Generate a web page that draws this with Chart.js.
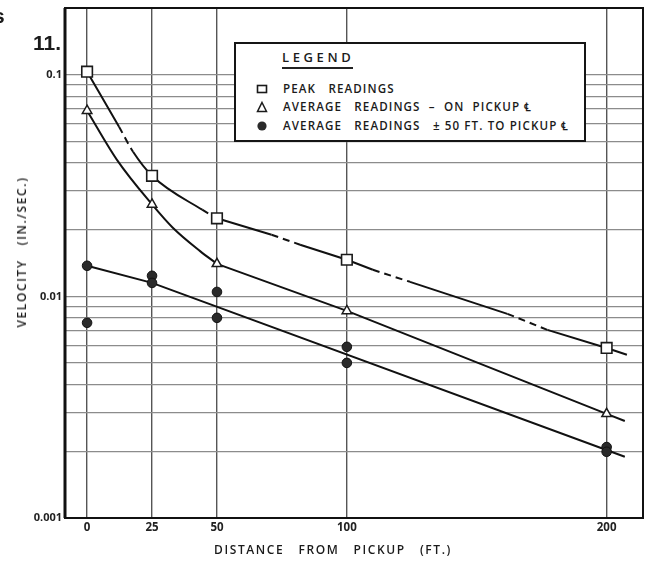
<!DOCTYPE html>
<html>
<head>
<meta charset="utf-8">
<script src="https://cdn.jsdelivr.net/npm/chart.js@4.4.1/dist/chart.umd.min.js"></script>
<style>
  html, body { margin: 0; padding: 0; background: #fff; }
  #wrap { position: relative; width: 645px; height: 561px; overflow: hidden; color: #1b1b1b; font-family: 'Open Sans', sans-serif; }
  canvas { position: absolute; left: 0; top: 0; }
  .fig { position: absolute; font-family: 'Liberation Sans', Arial, sans-serif; font-weight: bold; font-size: 21px; line-height: 21px; }
  #legend { position: absolute; left: 234px; top: 42px; width: 352px; height: 100px; box-sizing: border-box; border: 2px solid #151515; background: #fff; }
  #legend div { position: absolute; white-space: pre; }
  .ttl { left: 46px; top: 5px; font-size: 13px; line-height: 16px; letter-spacing: 3.6px; font-weight: 600; }
  .uline { left: 46px; top: 23px; width: 71px; height: 2px; background: #222; }
  .row { left: 47px; font-size: 11.6px; line-height: 14px; letter-spacing: 1.1px; font-weight: 600; }
  #legend svg { position: absolute; left: 20px; }
  #xtitle { position: absolute; left: 333px; top: 542px; transform: translateX(-50%); white-space: pre; font-size: 12px; line-height: 16px; letter-spacing: 1.6px; font-weight: 600; }
  #ytitle { position: absolute; left: 22px; top: 252px; transform: translate(-50%, -50%) rotate(-90deg); white-space: pre; font-size: 12px; line-height: 16px; letter-spacing: 1.6px; font-weight: 600; }
</style>
</head>
<body>
<div id="wrap">
  <canvas id="chart" width="645" height="561"></canvas>
  <div class="fig" style="left:-7px; top:5px;">s</div>
  <div class="fig" style="left:33px; top:32px;">11.</div>
  <div id="legend">
    <div class="ttl">LEGEND</div>
    <div class="uline"></div>
    <svg style="top:38px;" width="12" height="14"><rect x="1.5" y="3.5" width="9" height="7" fill="#fff" stroke="#1a1a1a" stroke-width="1.6"/></svg>
    <div class="row" style="top:38px;">PEAK   READINGS</div>
    <svg style="top:56px;" width="12" height="14"><polygon points="6,2.5 10.5,11.5 1.5,11.5" fill="#fff" stroke="#1a1a1a" stroke-width="1.5"/></svg>
    <div class="row" style="top:56px;">AVERAGE   READINGS  –  ON  PICKUP ℄</div>
    <svg style="top:75px;" width="12" height="14"><circle cx="6" cy="7" r="4.6" fill="#2a2a2a"/></svg>
    <div class="row" style="top:75px;">AVERAGE   READINGS   ± 50 FT. TO PICKUP ℄</div>
  </div>
  <div id="xtitle">DISTANCE   FROM   PICKUP   (FT.)</div>
  <div id="ytitle">VELOCITY   (IN./SEC.)</div>
</div>
<script>
// distance from pickup (ft.)
const xTicks = [0, 25, 50, 100, 200];
// log grid lines and the labelled decades
const yGrid = [0.001, 0.002, 0.003, 0.004, 0.005, 0.006, 0.007, 0.008, 0.009,
  0.01, 0.02, 0.03, 0.04, 0.05, 0.06, 0.07, 0.08, 0.09, 0.1, 0.2];
const yLabelValues = [0.001, 0.01, 0.1];
const yLabels = ['0.001', '0.01', '0.1'];

// measured points
const peakX = [0, 25, 50, 100, 200];
const peakY = [0.1032, 0.035, 0.0225, 0.01463, 0.00585];
const onPickupX = [0, 25, 50, 100, 200];
const onPickupY = [0.0688, 0.026, 0.01402, 0.0086, 0.00295];
const offsetX = [0, 0, 25, 25, 50, 50, 100, 100, 200, 200];
const offsetY = [0.01374, 0.0076, 0.01238, 0.0115, 0.01047, 0.008, 0.00592, 0.00501, 0.00209, 0.00199];

// hand drawn curves (ends, bends and where the dashes start/stop)
// curved part (0-50 ft) and straight part (50 ft on)
const peakCurveX = [0, 12.3, 17.7, 25, 44.3, 50];
const peakCurveY = [0.1032, 0.0582, 0.0449, 0.035, 0.0246, 0.0225];
const peakCurveDashed = [1, 4];
const peakLineX = [50, 71, 82, 100, 110, 124.3, 161.8, 177.2, 200, 207.8];
const peakLineY = [0.0225, 0.01897, 0.0171, 0.01463, 0.01318, 0.01163, 0.00834, 0.00706, 0.00585, 0.00545];
const peakLineDashed = [1, 4, 6];
const onPickupCurveX = [0, 11.5, 25, 33, 43.5, 50];
const onPickupCurveY = [0.0688, 0.0413, 0.026, 0.0204, 0.016, 0.01402];
const onPickupLineX = [50, 100, 200, 207];
const onPickupLineY = [0.01402, 0.0086, 0.00295, 0.00274];
const offsetFitX = [0, 25, 207];
const offsetFitY = [0.01374, 0.0115, 0.00189];

const pts = (xs, ys) => xs.map((x, i) => ({ x: x, y: ys[i] }));

function fitLine(xs, ys, curved, dashed) {
  return {
    data: pts(xs, ys),
    showLine: true,
    pointRadius: 0,
    borderColor: '#111',
    borderWidth: 2,
    cubicInterpolationMode: curved ? 'monotone' : 'default',
    segment: {
      borderDash: ctx => (dashed.includes(ctx.p0DataIndex) ? [7, 5] : undefined),
    },
  };
}

// frame round the plot
const framePlugin = {
  id: 'frame',
  afterDatasetsDraw(chart) {
    const { ctx, chartArea: a } = chart;
    ctx.save();
    ctx.strokeStyle = '#111';
    ctx.lineWidth = 2;
    ctx.strokeRect(a.left, a.top, a.right - a.left, a.bottom - a.top);
    ctx.lineWidth = 3;
    ctx.beginPath();
    ctx.moveTo(a.left, a.top);
    ctx.lineTo(a.left, a.bottom);
    ctx.stroke();
    ctx.restore();
  }
};

new Chart(document.getElementById('chart'), {
  type: 'scatter',
  data: {
    datasets: [
      {
        label: 'PEAK READINGS',
        data: pts(peakX, peakY),
        pointStyle: 'rect',
        pointRadius: 7.5,
        borderWidth: 1.6,
        borderColor: '#1a1a1a',
        backgroundColor: '#fff',
      },
      {
        label: 'AVERAGE READINGS – ON PICKUP ℄',
        data: pts(onPickupX, onPickupY),
        pointStyle: 'triangle',
        pointRadius: 5.5,
        borderWidth: 1.5,
        borderColor: '#1a1a1a',
        backgroundColor: '#fff',
      },
      {
        label: 'AVERAGE READINGS ± 50 FT. TO PICKUP ℄',
        data: pts(offsetX, offsetY),
        pointStyle: 'circle',
        pointRadius: 4.8,
        borderWidth: 1,
        borderColor: '#111',
        backgroundColor: '#2a2a2a',
      },
      fitLine(peakCurveX, peakCurveY, true, peakCurveDashed),
      fitLine(peakLineX, peakLineY, false, peakLineDashed),
      fitLine(onPickupCurveX, onPickupCurveY, true, []),
      fitLine(onPickupLineX, onPickupLineY, false, []),
      fitLine(offsetFitX, offsetFitY, false, []),
    ],
  },
  options: {
    responsive: false,
    animation: false,
    devicePixelRatio: 1,
    layout: { autoPadding: false, padding: { left: 0, right: 2, top: 8, bottom: 0 } },
    plugins: { legend: { display: false }, tooltip: { enabled: false } },
    scales: {
      x: {
        type: 'linear',
        min: -8.5,
        max: 214,
        afterBuildTicks: s => { s.ticks = xTicks.map(v => ({ value: v })); },
        afterFit: s => { s.height = 43; s.paddingLeft = 0; s.paddingRight = 0; },
        ticks: { font: { family: 'Open Sans', size: 11.5, weight: 'bold' }, color: '#222', padding: 3, autoSkip: false, maxRotation: 0, callback: v => String(v) },
        grid: { color: '#555', lineWidth: 1.4, drawTicks: false },
        border: { display: false },
      },
      y: {
        type: 'logarithmic',
        min: 0.001,
        max: 0.2,
        afterBuildTicks: s => { s.ticks = yGrid.map(v => ({ value: v })); },
        afterFit: s => { s.width = 65; s.paddingTop = 0; s.paddingBottom = 0; },
        ticks: {
          font: { family: 'Open Sans', size: 11, weight: 'bold' },
          color: '#222',
          padding: 3,
          autoSkip: false,
          callback: v => {
            const i = yLabelValues.findIndex(t => Math.abs(t - v) < t * 1e-6);
            return i >= 0 ? yLabels[i] : '';
          },
        },
        grid: { color: '#8c8c8c', lineWidth: 1.2, drawTicks: false },
        border: { display: false },
      },
    },
  },
  plugins: [framePlugin],
});
</script>
</body>
</html>
